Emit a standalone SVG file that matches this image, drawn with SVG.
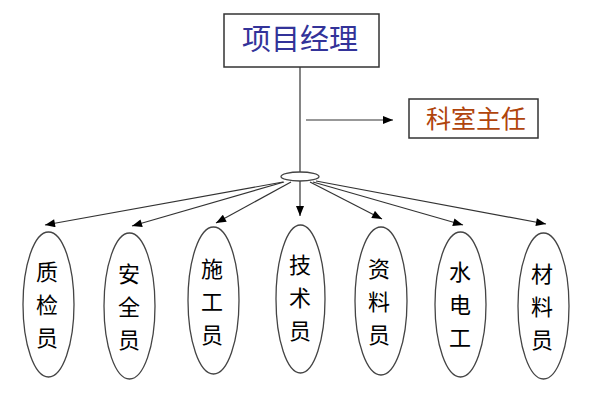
<svg xmlns="http://www.w3.org/2000/svg" width="600" height="400" viewBox="0 0 600 400">
<style>
.box{fill:#fff;stroke:#333;stroke-width:1.5}
.ell{fill:#fff;stroke:#444;stroke-width:1.3}
.t{font-family:"Liberation Sans","Noto Sans CJK SC",sans-serif;text-anchor:middle}
.v{font-size:22px;fill:#000}
.c{fill:none;stroke:#333;stroke-width:1.2}
</style>
<defs>
<marker id="ah" viewBox="0 0 10 8" refX="10" refY="4" markerWidth="11" markerHeight="8" markerUnits="userSpaceOnUse" orient="auto">
<path d="M0,0 L10,4 L0,8 Z" fill="#000"/>
</marker>
</defs>
<rect width="600" height="400" fill="#fff"/>
<g id="connectors">
<line class="c" x1="300" y1="67" x2="300" y2="172" stroke="#777"/>
<line class="c" x1="306" y1="120" x2="393" y2="120" marker-end="url(#ah)"/>
<line class="c" x1="283" y1="182" x2="45" y2="225" marker-end="url(#ah)"/>
<line class="c" x1="284" y1="182" x2="132" y2="226" marker-end="url(#ah)"/>
<line class="c" x1="291" y1="182" x2="216" y2="223" marker-end="url(#ah)"/>
<line class="c" x1="300" y1="181" x2="300" y2="216" marker-end="url(#ah)"/>
<line class="c" x1="310" y1="182" x2="382" y2="219" marker-end="url(#ah)"/>
<line class="c" x1="313" y1="182" x2="463" y2="225" marker-end="url(#ah)"/>
<line class="c" x1="316" y1="181" x2="546" y2="224" marker-end="url(#ah)"/>
</g>
<g id="manager">
<rect class="box" x="224" y="14" width="155" height="53"/>
<text class="t" x="300" y="50" font-size="29" fill="#333399">项目经理</text>
</g>
<g id="office">
<rect class="box" x="409" y="99" width="129" height="39"/>
<text class="t" x="476" y="128" font-size="25" fill="#b0440c">科室主任</text>
</g>
<g id="hub">
<ellipse class="ell" cx="300" cy="176.5" rx="19" ry="4.5"/>
</g>
<g id="n1">
<ellipse class="ell" cx="48.5" cy="304.5" rx="25.5" ry="72.5"/>
<text class="t v" x="47" y="280">质</text><text class="t v" x="47" y="313">检</text><text class="t v" x="47" y="346">员</text>
</g>
<g id="n2">
<ellipse class="ell" cx="129.5" cy="306" rx="25.5" ry="73"/>
<text class="t v" x="129" y="282">安</text><text class="t v" x="129" y="315">全</text><text class="t v" x="129" y="348">员</text>
</g>
<g id="n3">
<ellipse class="ell" cx="213.5" cy="300.5" rx="25.5" ry="73.5"/>
<text class="t v" x="212" y="277">施</text><text class="t v" x="212" y="310">工</text><text class="t v" x="212" y="343">员</text>
</g>
<g id="n4">
<ellipse class="ell" cx="300.5" cy="299" rx="24.5" ry="74"/>
<text class="t v" x="300" y="273">技</text><text class="t v" x="300" y="306">术</text><text class="t v" x="300" y="339">员</text>
</g>
<g id="n5">
<ellipse class="ell" cx="381" cy="301" rx="26" ry="74"/>
<text class="t v" x="379" y="277">资</text><text class="t v" x="379" y="310">料</text><text class="t v" x="379" y="343">员</text>
</g>
<g id="n6">
<ellipse class="ell" cx="460.5" cy="304.5" rx="25.5" ry="72.5"/>
<text class="t v" x="460" y="280">水</text><text class="t v" x="460" y="313">电</text><text class="t v" x="460" y="346">工</text>
</g>
<g id="n7">
<ellipse class="ell" cx="543.5" cy="306" rx="25.5" ry="73"/>
<text class="t v" x="542" y="282">材</text><text class="t v" x="542" y="315">料</text><text class="t v" x="542" y="348">员</text>
</g>
</svg>
